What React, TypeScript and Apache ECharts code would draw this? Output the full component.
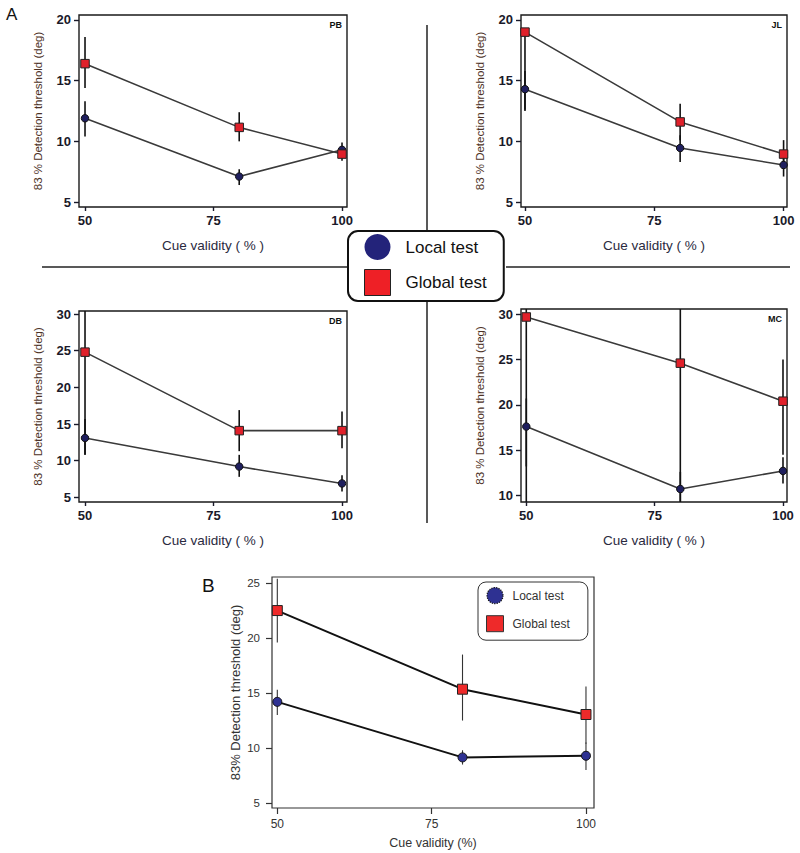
import React, { useEffect, useRef } from "react";
import * as echarts from "echarts";

// ---------- data ----------
const cueValidity = [50, 80, 100];
const xTickValues = [50, 75, 100];

const pbLocal = [11.9, 7.1, 9.3];
const pbLocalLow = [10.4, 6.4, 8.6];
const pbLocalHigh = [13.3, 7.7, 9.9];
const pbGlobal = [16.4, 11.15, 8.95];
const pbGlobalLow = [14.4, 10.0, 8.4];
const pbGlobalHigh = [18.6, 12.4, 9.6];

const jlLocal = [14.3, 9.45, 8.05];
const jlLocalLow = [12.5, 8.3, 7.1];
const jlLocalHigh = [15.8, 10.5, 8.6];
const jlGlobal = [19.0, 11.6, 8.95];
const jlGlobalLow = [12.6, 10.1, 8.2];
const jlGlobalHigh = [19.3, 13.1, 10.1];

const dbLocal = [13.1, 9.2, 6.9];
const dbLocalLow = [10.8, 7.8, 5.8];
const dbLocalHigh = [15.7, 10.8, 8.0];
const dbGlobal = [24.8, 14.1, 14.1];
const dbGlobalLow = [10.8, 11.3, 11.7];
const dbGlobalHigh = [31, 16.9, 16.7];

const mcLocal = [17.6, 10.7, 12.7];
const mcLocalLow = [13.2, 9.3, 11.3];
const mcLocalHigh = [20.7, 12.6, 14.2];
const mcGlobal = [29.7, 24.6, 20.4];
const mcGlobalLow = [9.0, 9.0, 14.5];
const mcGlobalHigh = [31, 31, 25.0];

const bLocal = [14.2, 9.15, 9.3];
const bLocalLow = [13.0, 8.5, 8.0];
const bLocalHigh = [15.3, 9.8, 10.5];
const bGlobal = [22.5, 15.35, 13.05];
const bGlobalLow = [19.6, 12.5, 10.4];
const bGlobalHigh = [25.4, 18.5, 15.6];

const yTicks5to20 = [5, 10, 15, 20];
const yTicks5to30 = [5, 10, 15, 20, 25, 30];
const yTicks10to30 = [10, 15, 20, 25, 30];
const yTicks5to25 = [5, 10, 15, 20, 25];

const panelNames = ["PB", "JL", "DB", "MC", "B"];
const legendNames = ["Local test", "Global test"];
const xTitleA = "Cue validity ( % )";
const yTitleA = "83 % Detection threshold (deg)";
const xTitleB = "Cue validity (%)";
const yTitleB = "83% Detection threshold (deg)";

// ---------- layout ----------
type Panel = {
  name: string;
  local: number[]; localLow: number[]; localHigh: number[];
  global: number[]; globalLow: number[]; globalHigh: number[];
  yTicks: number[];
  left: number; top: number; width: number; height: number;
  xMin: number; xMax: number; yMin: number; yMax: number;
  big: boolean;
};

const panels: Panel[] = [
  { name: panelNames[0], local: pbLocal, localLow: pbLocalLow, localHigh: pbLocalHigh, global: pbGlobal, globalLow: pbGlobalLow, globalHigh: pbGlobalHigh, yTicks: yTicks5to20,
    left: 79, top: 15, width: 268, height: 192, xMin: 48.83, xMax: 100.97, yMin: 4.59, yMax: 20.41, big: false },
  { name: panelNames[1], local: jlLocal, localLow: jlLocalLow, localHigh: jlLocalHigh, global: jlGlobal, globalLow: jlGlobalLow, globalHigh: jlGlobalHigh, yTicks: yTicks5to20,
    left: 521, top: 15, width: 266, height: 192, xMin: 49.23, xMax: 100.66, yMin: 4.59, yMax: 20.41, big: false },
  { name: panelNames[2], local: dbLocal, localLow: dbLocalLow, localHigh: dbLocalHigh, global: dbGlobal, globalLow: dbGlobalLow, globalHigh: dbGlobalHigh, yTicks: yTicks5to30,
    left: 79, top: 311, width: 268, height: 191, xMin: 48.83, xMax: 100.97, yMin: 4.37, yMax: 30.41, big: false },
  { name: panelNames[3], local: mcLocal, localLow: mcLocalLow, localHigh: mcLocalHigh, global: mcGlobal, globalLow: mcGlobalLow, globalHigh: mcGlobalHigh, yTicks: yTicks10to30,
    left: 521, top: 309, width: 266, height: 193, xMin: 48.97, xMax: 100.78, yMin: 9.27, yMax: 30.58, big: false },
  { name: panelNames[4], local: bLocal, localLow: bLocalLow, localHigh: bLocalHigh, global: bGlobal, globalLow: bGlobalLow, globalHigh: bGlobalHigh, yTicks: yTicks5to25,
    left: 272, top: 577, width: 322, height: 231, xMin: 49.14, xMax: 101.3, yMin: 4.55, yMax: 25.55, big: true },
];

const FONT = "Liberation Sans, Arial, Helvetica, sans-serif";

function errorRender(color: string, width: number) {
  return (params: any, api: any) => {
    const x = api.value(0);
    const p1 = api.coord([x, api.value(1)]);
    const p2 = api.coord([x, api.value(2)]);
    const cs = params.coordSys;
    const top = cs.y;
    const bottom = cs.y + cs.height;
    const clamp = (v: number) => Math.min(bottom, Math.max(top, v));
    return {
      type: "line",
      shape: { x1: p1[0], y1: clamp(p1[1]), x2: p2[0], y2: clamp(p2[1]) },
      style: { stroke: color, lineWidth: width },
    };
  };
}

function buildOption() {
  const grid: any[] = [];
  const xAxis: any[] = [];
  const yAxis: any[] = [];
  const series: any[] = [];

  panels.forEach((p, i) => {
    const big = p.big;
    grid.push({
      left: p.left, top: p.top, width: p.width, height: p.height,
      show: true, borderColor: big ? "#333" : "#1a1a1a", borderWidth: big ? 1.2 : 1.4,
      containLabel: false,
    });
    const tickColor = big ? "#333" : "#1a1a2a";
    xAxis.push({
      type: "value", gridIndex: i, min: p.xMin, max: p.xMax,
      axisLine: { show: false },
      axisTick: { show: true, customValues: xTickValues, length: big ? 6 : 4, lineStyle: { color: tickColor, width: big ? 1.2 : 1.4 } },
      axisLabel: { customValues: xTickValues, color: tickColor, fontSize: big ? 12 : 13, fontWeight: big ? "normal" : "bold", fontFamily: FONT, margin: big ? 10 : 7 },
      splitLine: { show: false },
      name: big ? xTitleB : xTitleA,
      nameLocation: "middle",
      nameGap: big ? 28 : 31,
      nameTextStyle: { color: big ? "#333" : "#2a2a40", fontSize: big ? 12.5 : 13.5, fontFamily: FONT },
    });
    yAxis.push({
      type: "value", gridIndex: i, min: p.yMin, max: p.yMax,
      axisLine: { show: false },
      axisTick: { show: true, customValues: p.yTicks, length: big ? 6 : 5, lineStyle: { color: tickColor, width: big ? 1.2 : 1.4 } },
      axisLabel: { customValues: p.yTicks, color: tickColor, fontSize: big ? 11.5 : 13, fontWeight: big ? "normal" : "bold", fontFamily: FONT, margin: big ? 12 : 8 },
      splitLine: { show: false },
      name: big ? yTitleB : yTitleA,
      nameLocation: "middle",
      nameGap: big ? 30 : 35,
      nameTextStyle: { color: big ? "#333" : "#4d3226", fontSize: big ? 13 : 11.5, fontFamily: FONT },
    });

    const errColor = big ? "#333" : "#111";
    const errWidth = big ? 1.1 : 1.6;
    series.push({
      name: p.name + " local error", type: "custom", xAxisIndex: i, yAxisIndex: i, z: 1,
      renderItem: errorRender(errColor, errWidth),
      encode: { x: 0, y: [1, 2] },
      data: cueValidity.map((c, k) => [c, p.localLow[k], p.localHigh[k]]),
      silent: true,
    });
    series.push({
      name: p.name + " global error", type: "custom", xAxisIndex: i, yAxisIndex: i, z: 1,
      renderItem: errorRender(errColor, errWidth),
      encode: { x: 0, y: [1, 2] },
      data: cueValidity.map((c, k) => [c, p.globalLow[k], p.globalHigh[k]]),
      silent: true,
    });
    series.push({
      name: legendNames[0], type: "line", xAxisIndex: i, yAxisIndex: i, z: 3,
      data: cueValidity.map((c, k) => [c, p.local[k]]),
      symbol: "circle", symbolSize: big ? 9 : 7.5,
      lineStyle: { color: big ? "#111" : "#3a3a3a", width: big ? 2 : 1.6 },
      itemStyle: { color: big ? "#2e3192" : "#1f1f5e", borderColor: "#111", borderWidth: 1 },
      silent: true,
    });
    series.push({
      name: legendNames[1], type: "line", xAxisIndex: i, yAxisIndex: i, z: 3,
      data: cueValidity.map((c, k) => [c, p.global[k]]),
      symbol: "rect", symbolSize: big ? 10 : 8.5,
      lineStyle: { color: big ? "#111" : "#3a3a3a", width: big ? 2 : 1.6 },
      itemStyle: { color: big ? "#ee2a2a" : "#e0202a", borderColor: "#222", borderWidth: 1 },
      silent: true,
    });
  });

  const panelLabels = panels.filter((p) => !p.big).map((p) => ({
    type: "text",
    x: p.left + p.width - 5,
    y: p.top + 9.5,
    style: { text: p.name, textAlign: "right", textVerticalAlign: "middle", font: "bold 9px " + FONT, fill: "#111" },
    z: 10,
  }));

  const graphic: any[] = [
    { type: "line", shape: { x1: 427, y1: 25, x2: 427, y2: 231 }, style: { stroke: "#222", lineWidth: 1.5 } },
    { type: "line", shape: { x1: 427, y1: 301, x2: 427, y2: 523 }, style: { stroke: "#222", lineWidth: 1.5 } },
    { type: "line", shape: { x1: 42, y1: 267, x2: 348, y2: 267 }, style: { stroke: "#222", lineWidth: 1.5 } },
    { type: "line", shape: { x1: 506, y1: 267, x2: 790, y2: 267 }, style: { stroke: "#222", lineWidth: 1.5 } },
    { type: "text", x: 6, y: 6, style: { text: "A", font: "17px " + FONT, fill: "#111" } },
    { type: "text", x: 202, y: 576, style: { text: "B", font: "19px " + FONT, fill: "#111" } },
    ...panelLabels,
  ];

  return {
    animation: false,
    backgroundColor: "#ffffff",
    grid, xAxis, yAxis, series, graphic,
    legend: [
      {
        left: 348, top: 231, orient: "vertical", selectedMode: false,
        itemWidth: 26, itemHeight: 26, itemGap: 9,
        padding: [3, 17, 5, 16],
        borderColor: "#111", borderWidth: 2, borderRadius: 10, backgroundColor: "#fff",
        textStyle: { fontSize: 17, color: "#111", fontFamily: FONT, padding: [0, 0, 0, 10] },
        data: [
          { name: legendNames[0], icon: "circle", itemStyle: { color: "#23237a", borderWidth: 0 } },
          { name: legendNames[1], icon: "rect", itemStyle: { color: "#ee2026", borderColor: "#222", borderWidth: 1 } },
        ],
      },
      {
        left: 478, top: 582, orient: "vertical", selectedMode: false,
        itemWidth: 17, itemHeight: 16, itemGap: 11,
        padding: [5, 18, 8, 8],
        borderColor: "#333", borderWidth: 1, borderRadius: 8, backgroundColor: "#fff",
        textStyle: { fontSize: 12, color: "#333", fontFamily: FONT, padding: [0, 0, 0, 4] },
        data: [
          { name: legendNames[0], icon: "circle", itemStyle: { color: "#2e3192", borderColor: "#111", borderWidth: 1.2, borderType: "dotted" } },
          { name: legendNames[1], icon: "rect", itemStyle: { color: "#ee2a2a", borderColor: "#333", borderWidth: 1 } },
        ],
      },
    ],
  };
}

export default function App() {
  const ref = useRef<HTMLDivElement>(null);
  useEffect(() => {
    if (!ref.current) return;
    const chart = echarts.init(ref.current, null, { renderer: "svg" });
    chart.setOption(buildOption() as any);
    return () => chart.dispose();
  }, []);
  return (
    <div
      ref={ref}
      style={{ position: "absolute", left: 0, top: 0, width: 800, height: 853, background: "#fff" }}
    />
  );
}
